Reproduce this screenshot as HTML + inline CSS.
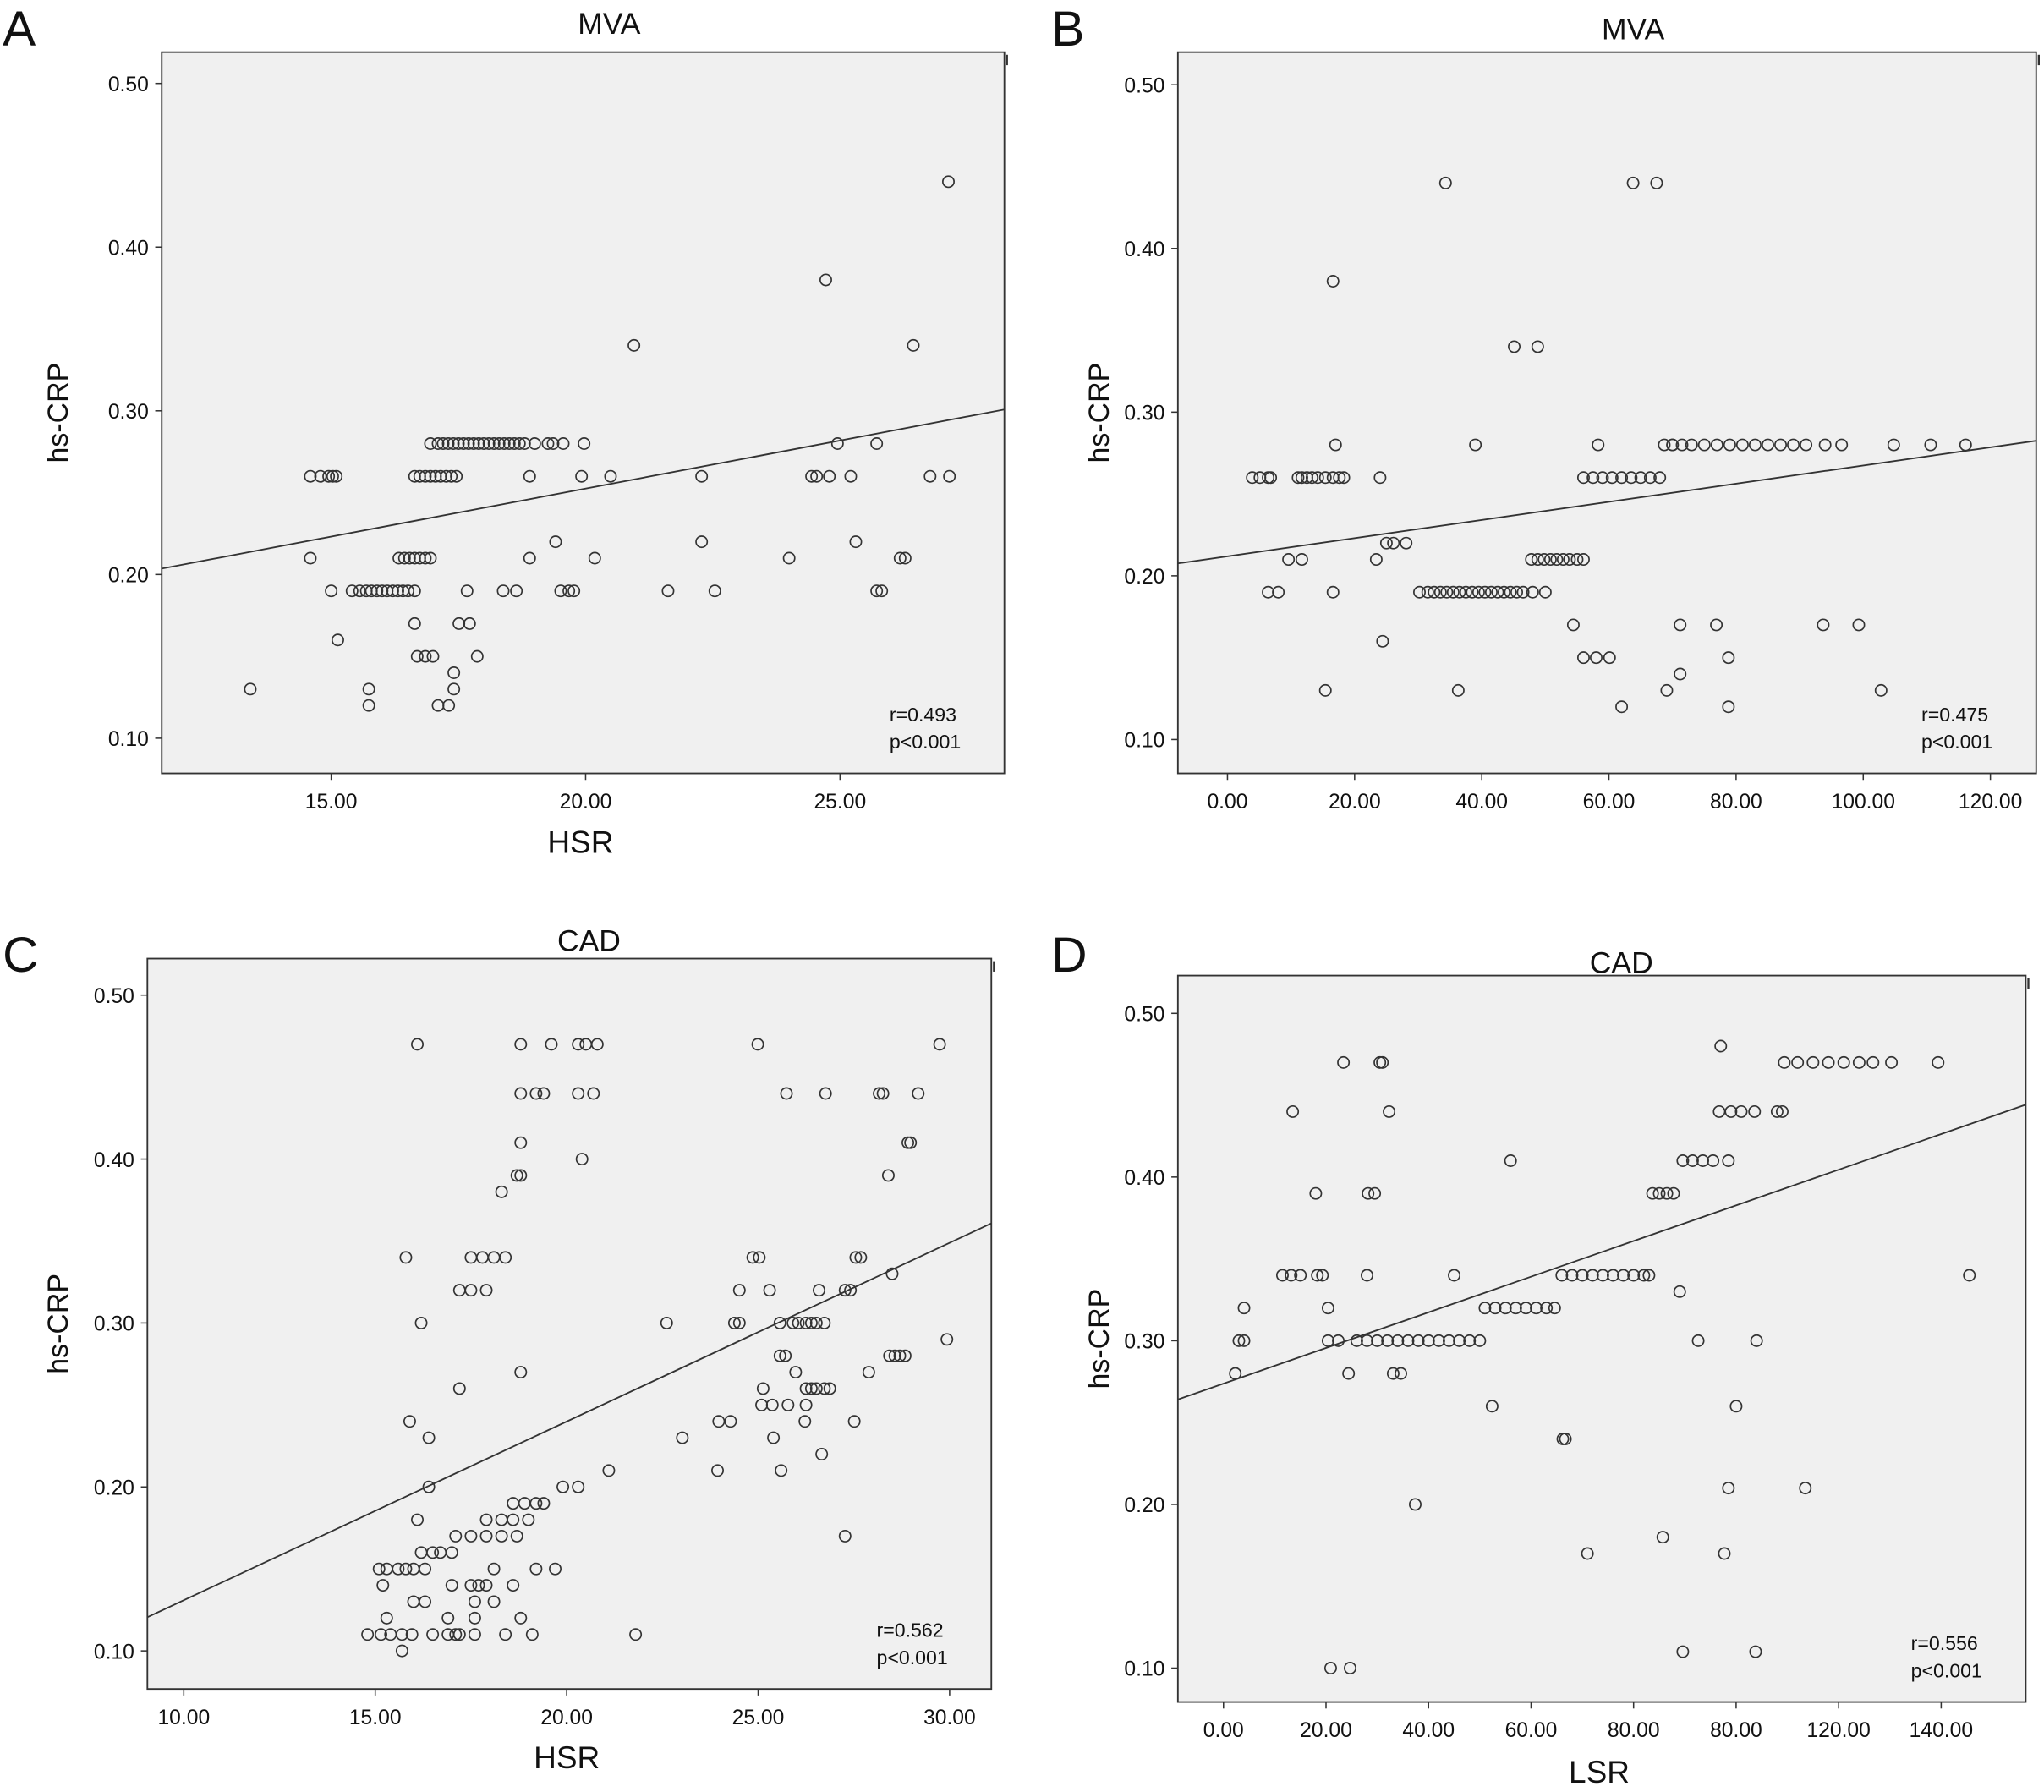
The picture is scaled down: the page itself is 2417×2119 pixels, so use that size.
<!DOCTYPE html>
<html><head><meta charset="utf-8"><style>
html,body{margin:0;padding:0;background:#fff}
svg{display:block}
text{font-family:"Liberation Sans",sans-serif;fill:#111}
</style></head><body>
<svg id="fig" width="2417" height="2119" viewBox="0 0 1567 1374" preserveAspectRatio="none" xmlns="http://www.w3.org/2000/svg"></svg>
<script>
// Panel A data (HSR vs hs-CRP, MVA)
const aX = [13.41,14.59,14.79,14.95,15.03,15.10,14.59,15.0,15.13,15.41,15.56,15.69,15.79,15.90,16.0,16.10,16.21,16.31,16.41,16.51,16.64,15.74,15.74,16.33,16.44,16.54,16.64,16.74,16.85,16.95,16.64,16.69,16.85,17.0,16.64,16.74,16.85,16.95,17.05,17.15,17.26,17.36,17.46,16.95,17.1,17.2,17.3,17.4,17.5,17.6,17.7,17.8,17.9,18.0,18.1,18.2,18.3,18.4,18.5,18.6,18.7,18.8,19.0,17.10,17.31,17.41,17.41,17.51,17.72,17.67,17.87,18.38,18.64,18.90,18.90,19.26,19.36,19.56,19.97,19.41,19.51,19.67,19.77,19.92,20.18,20.49,20.95,21.62,22.28,22.28,22.54,24.0,24.44,24.54,24.72,24.79,24.95,25.21,25.31,25.72,25.72,25.82,26.18,26.28,26.44,26.77,27.13,27.15];
const aY = [0.13,0.26,0.26,0.26,0.26,0.26,0.21,0.19,0.16,0.19,0.19,0.19,0.19,0.19,0.19,0.19,0.19,0.19,0.19,0.19,0.19,0.13,0.12,0.21,0.21,0.21,0.21,0.21,0.21,0.21,0.17,0.15,0.15,0.15,0.26,0.26,0.26,0.26,0.26,0.26,0.26,0.26,0.26,0.28,0.28,0.28,0.28,0.28,0.28,0.28,0.28,0.28,0.28,0.28,0.28,0.28,0.28,0.28,0.28,0.28,0.28,0.28,0.28,0.12,0.12,0.14,0.13,0.17,0.17,0.19,0.15,0.19,0.19,0.21,0.26,0.28,0.28,0.28,0.28,0.22,0.19,0.19,0.19,0.26,0.21,0.26,0.34,0.19,0.26,0.22,0.19,0.21,0.26,0.26,0.38,0.26,0.28,0.26,0.22,0.28,0.19,0.19,0.21,0.21,0.34,0.26,0.44,0.26];
// Panel B data (LSR vs hs-CRP, MVA)
const bX = [3.9,5.1,6.4,6.8,11.1,11.7,12.5,13.3,14.2,15.4,16.6,17.6,18.3,24.0,9.6,11.7,23.4,6.4,8.0,16.6,16.6,17.0,15.4,24.4,25.0,26.1,28.1,34.3,30.2,31.5,32.5,33.5,34.5,35.5,36.5,37.5,38.5,39.5,40.5,41.5,42.5,43.5,44.5,45.5,46.5,48,50,39.0,36.3,45.1,48.8,47.8,48.8,49.8,50.8,51.8,52.8,53.8,55,56,54.4,56,58,60.1,56,57.5,59,60.5,62,63.5,65,66.5,68,58.3,62,63.8,67.5,68.7,70,71.5,73,75,77,79,81,83,85,87,89,91,94,96.6,104.8,110.6,116.1,70,76.9,93.7,99.3,71.2,71.2,69.1,78.8,78.8,102.8];
const bY = [0.26,0.26,0.26,0.26,0.26,0.26,0.26,0.26,0.26,0.26,0.26,0.26,0.26,0.26,0.21,0.21,0.21,0.19,0.19,0.19,0.38,0.28,0.13,0.16,0.22,0.22,0.22,0.44,0.19,0.19,0.19,0.19,0.19,0.19,0.19,0.19,0.19,0.19,0.19,0.19,0.19,0.19,0.19,0.19,0.19,0.19,0.19,0.28,0.13,0.34,0.34,0.21,0.21,0.21,0.21,0.21,0.21,0.21,0.21,0.21,0.17,0.15,0.15,0.15,0.26,0.26,0.26,0.26,0.26,0.26,0.26,0.26,0.26,0.28,0.12,0.44,0.44,0.28,0.28,0.28,0.28,0.28,0.28,0.28,0.28,0.28,0.28,0.28,0.28,0.28,0.28,0.28,0.28,0.28,0.28,0.28,0.17,0.17,0.17,0.17,0.14,0.13,0.12,0.15,0.13,0.15];
// Panel C data (HSR vs hs-CRP, CAD)
const cX = [14.8,15.15,15.4,15.7,15.96,16.5,16.9,17.1,17.2,17.6,18.4,19.1,15.7,15.3,16.9,17.6,18.8,16.0,16.3,17.6,18.1,15.2,17.0,17.5,17.7,17.9,18.6,15.1,15.3,15.6,15.8,16.0,16.3,18.1,19.2,19.7,16.2,16.5,16.7,17.0,17.1,17.5,17.9,18.3,18.7,16.1,17.9,18.3,18.6,19.0,18.6,18.9,19.2,19.4,16.4,19.9,20.3,21.1,21.8,16.4,15.9,17.2,18.8,16.2,15.8,17.5,17.8,18.1,18.4,17.2,17.5,17.9,18.3,18.7,18.8,18.8,18.8,19.2,19.4,20.3,20.7,16.1,18.8,19.6,20.3,20.5,20.8,20.4,22.61,23.02,23.94,23.97,24.28,24.38,24.51,24.51,24.86,25.03,24.99,25.74,25.09,25.37,25.78,25.13,25.40,25.6,25.98,25.57,25.71,25.57,25.91,26.05,26.25,26.39,26.52,26.73,25.30,26.59,26.25,26.39,26.52,26.73,26.87,26.25,26.66,27.27,26.22,27.51,26.76,29.74,28.16,28.26,29.18,28.91,28.98,28.40,27.55,27.68,28.50,27.41,27.27,29.93,28.43,28.57,28.7,28.84,27.89];
const cY = [0.11,0.11,0.11,0.11,0.11,0.11,0.11,0.11,0.11,0.11,0.11,0.11,0.10,0.12,0.12,0.12,0.12,0.13,0.13,0.13,0.13,0.14,0.14,0.14,0.14,0.14,0.14,0.15,0.15,0.15,0.15,0.15,0.15,0.15,0.15,0.15,0.16,0.16,0.16,0.16,0.17,0.17,0.17,0.17,0.17,0.18,0.18,0.18,0.18,0.18,0.19,0.19,0.19,0.19,0.20,0.20,0.20,0.21,0.11,0.23,0.24,0.26,0.27,0.30,0.34,0.34,0.34,0.34,0.34,0.32,0.32,0.32,0.38,0.39,0.39,0.41,0.44,0.44,0.44,0.44,0.44,0.47,0.47,0.47,0.47,0.47,0.47,0.40,0.30,0.23,0.21,0.24,0.24,0.30,0.30,0.32,0.34,0.34,0.47,0.44,0.25,0.25,0.25,0.26,0.23,0.21,0.27,0.28,0.28,0.30,0.30,0.30,0.30,0.30,0.30,0.30,0.32,0.32,0.26,0.26,0.26,0.26,0.26,0.25,0.22,0.17,0.24,0.24,0.44,0.47,0.44,0.44,0.44,0.41,0.41,0.39,0.34,0.34,0.33,0.32,0.32,0.29,0.28,0.28,0.28,0.28,0.27];
// Panel D data (LSR vs hs-CRP, CAD)
const dX = [2.3,3,4,4,11.5,13.2,15,18.3,19.3,13.5,18,20.4,20.4,22.4,23.4,30.5,31,24.4,26,28,30,32,34,36,38,40,42,44,46,48,50,28.2,29.5,28,32.3,33.1,34.6,20.9,24.7,37.4,45,52.4,51,53,55,57,59,61,63,64.6,56,66,68,70,72,74,76,78,80,82,83,66.2,66.7,71,83.7,85,86.5,87.8,89.6,91.5,93.5,95.5,98.5,97,89,85.7,89.6,92.6,96.7,99,101,103.6,108,109,98.5,97.7,100,104,103.8,109.4,112,115,118,121,124,126.7,130.3,139.4,113.5,145.5];
const dY = [0.28,0.30,0.30,0.32,0.34,0.34,0.34,0.34,0.34,0.44,0.39,0.32,0.30,0.30,0.47,0.47,0.47,0.28,0.30,0.30,0.30,0.30,0.30,0.30,0.30,0.30,0.30,0.30,0.30,0.30,0.30,0.39,0.39,0.34,0.44,0.28,0.28,0.10,0.10,0.20,0.34,0.26,0.32,0.32,0.32,0.32,0.32,0.32,0.32,0.32,0.41,0.34,0.34,0.34,0.34,0.34,0.34,0.34,0.34,0.34,0.34,0.24,0.24,0.17,0.39,0.39,0.39,0.39,0.41,0.41,0.41,0.41,0.41,0.48,0.33,0.18,0.11,0.30,0.44,0.44,0.44,0.44,0.44,0.44,0.21,0.17,0.26,0.30,0.11,0.47,0.47,0.47,0.47,0.47,0.47,0.47,0.47,0.47,0.21,0.34];
// Regression lines [intercept, slope]
const aFit = [0.1351, 0.00587];
const bFit = [0.2119, 0.000555];
const cFit = [0.0219, 0.0109];
const dFit = [0.2738, 0.001089];
// Tick labels
const aXTicks = [15,20,25];
const bXTicks = [0,20,40,60,80,100,120];
const cXTicks = [10,15,20,25,30];
const dXTicks = [0,20,40,60,80,100,120,140];
const dXTickLabels = ["0.00","20.00","40.00","60.00","80.00","80.00","120.00","140.00"];
const yTicks = [0.1,0.2,0.3,0.4,0.5];
const statsA = ["r=0.493","p<0.001"], statsB = ["r=0.475","p<0.001"], statsC = ["r=0.562","p<0.001"], statsD = ["r=0.556","p<0.001"];

const NS = "http://www.w3.org/2000/svg";
const svg = document.getElementById('fig');
function mk(tag, attrs, parent){ const e = document.createElementNS(NS, tag); for (const k in attrs) e.setAttribute(k, attrs[k]); (parent||svg).appendChild(e); return e; }

const panels = [
 {id:'a', letter:'A', title:'MVA', xt:'HSR', X:aX, Y:aY, fit:aFit, ticks:aXTicks, labels:null, stats:statsA,
  box:[124,40,770,593], xr:[11.67,28.23], yr:[0.5-(593-64)/1255, 0.5+(64-40)/1255], titleY:26, letterY:35, xtY:654, ylx:52},
 {id:'b', letter:'B', title:'MVA', xt:'', X:bX, Y:bY, fit:bFit, ticks:bXTicks, labels:null, stats:statsB,
  box:[903,40,1561,593], xr:[-7.8,127.2], yr:[0.5-(593-65)/1255, 0.5+(65-40)/1255], titleY:30, letterY:35, xtY:654, ylx:850},
 {id:'c', letter:'C', title:'CAD', xt:'HSR', X:cX, Y:cY, fit:cFit, ticks:cXTicks, labels:null, stats:statsC,
  box:[113,735,760,1295], xr:[9.05,31.09], yr:[0.5-(1295-763)/1257, 0.5+(763-735)/1257], titleY:729, letterY:745, xtY:1356, ylx:52},
 {id:'d', letter:'D', title:'CAD', xt:'LSR', X:dX, Y:dY, fit:dFit, ticks:dXTicks, labels:dXTickLabels, stats:statsD,
  box:[903,748,1553,1305], xr:[-8.9,156.5], yr:[0.5-(1305-777)/1255, 0.5+(777-748)/1255], titleY:746, letterY:745, xtY:1367, ylx:850}
];

panels.forEach(p => {
  const [x0,y0,x1,y1] = p.box;
  const sx = v => x0 + (v - p.xr[0]) / (p.xr[1]-p.xr[0]) * (x1-x0);
  const sy = v => y1 - (v - p.yr[0]) / (p.yr[1]-p.yr[0]) * (y1-y0);
  const g = mk('g', {});
  
  
  const bg = mk('rect', {x:x0,y:y0,width:x1-x0,height:y1-y0,fill:'#f0f0f0',stroke:'#333','stroke-width':1.2}, g);
  
  
  const mark = mk('line', {x1:x1+2,y1:y0+2,x2:x1+2,y2:y0+10,stroke:'#333','stroke-width':1.5}, g);
  
  
  const L = mk('text', {x:2,y:p.letterY,'font-size':38}, g);
  if (p.id==='b'||p.id==='d') L.setAttribute('x', 806);
  L.textContent = p.letter;
  
  
  const t = mk('text', {x:(x0+x1)/2 - (p.id==='a'?-20:(p.id==='b'?-20:(p.id==='c'?-15:-15))),y:p.titleY,'font-size':23,'text-anchor':'middle'}, g);
  t.textContent = p.title;
  
  
  // y axis
  yTicks.forEach(v => {
    const y = sy(v);
    const tk = mk('line', {x1:x0-5,y1:y,x2:x0,y2:y,stroke:'#333','stroke-width':1}, g);
    
    
    const tl = mk('text', {x:x0-10,y:y+6,'font-size':16,'text-anchor':'end'}, g);
    tl.textContent = v.toFixed(2);
    
    
  });
  const yt = mk('text', {x:0,y:0,'font-size':22,'text-anchor':'middle',transform:`translate(${p.ylx},${(y0+y1)/2}) rotate(-90)`}, g);
  yt.textContent = 'hs-CRP';
  
  
  // x axis
  p.ticks.forEach((v,i) => {
    const x = sx(v);
    const tk = mk('line', {x1:x,y1:y1,x2:x,y2:y1+5,stroke:'#333','stroke-width':1}, g);
    
    
    const tl = mk('text', {x:x,y:y1+27,'font-size':16,'text-anchor':'middle'}, g);
    tl.textContent = p.labels ? p.labels[i] : v.toFixed(2);
    
    
  });
  if (p.xt) {
    const xt = mk('text', {x:(x0+x1)/2 - 2,y:p.xtY,'font-size':24,'text-anchor':'middle'}, g);
    xt.textContent = p.xt;
    
    
  }
  // regression line
  const fy = v => p.fit[0] + p.fit[1]*v;
  const ln = mk('line', {x1:sx(p.xr[0]),y1:sy(fy(p.xr[0])),x2:sx(p.xr[1]),y2:sy(fy(p.xr[1])),stroke:'#333','stroke-width':1.2}, g);
  
  
  // points
  p.X.forEach((v,i) => {
    const c = mk('circle', {cx:sx(v),cy:sy(p.Y[i]),r:4.3,fill:'none',stroke:'#333','stroke-width':1.1}, g);
    
    
  });
  // stats
  p.stats.forEach((s,i) => {
    const st = mk('text', {x:x1-88,y:y1-40+i*21,'font-size':15}, g);
    st.textContent = s;
    
    
  });
});
</script>
</body></html>
